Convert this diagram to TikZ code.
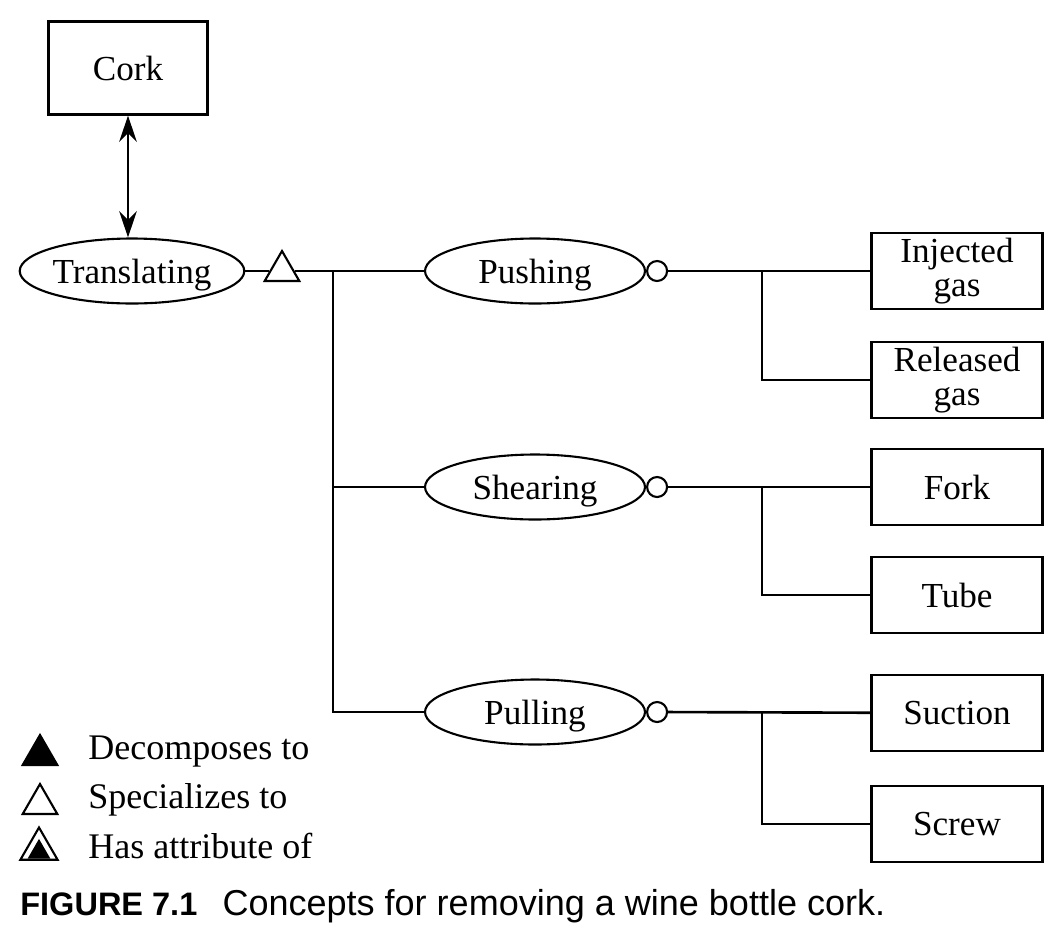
\documentclass[tikz,border=0pt]{standalone}
\usepackage{fontspec}
\setmainfont{Liberation Serif}
\setsansfont{Liberation Sans}
\usetikzlibrary{positioning,calc,shapes.geometric,arrows.meta}
\tikzset{
  concept/.style={ellipse,draw=black,line width=1.2pt,minimum width=4.4cm,minimum height=1.3cm,inner sep=0pt,text depth=0pt,font=\fontsize{20}{22}\selectfont},
  part/.style={draw=black,line width=1.2pt,minimum width=3.42cm,minimum height=1.52cm,inner sep=0pt,align=center,font=\fontsize{20}{19.5}\selectfont},
  ring/.style={circle,draw=black,line width=1.2pt,fill=white,minimum size=0.4cm,inner sep=0pt},
  tri/.style={regular polygon,regular polygon sides=3,draw=black,line width=1.2pt,minimum size=0.8cm,inner sep=0pt},
  link/.style={draw=black,line width=1.5pt},
  legtext/.style={anchor=west,inner sep=0pt,font=\fontsize{20.5}{22}\selectfont},
}

\begin{document}
\begin{tikzpicture}[x=0.02cm,y=-0.02cm]
\useasboundingbox (0,0) rectangle (1064,947);
% concepts
\node[part,minimum width=3.18cm,minimum height=1.86cm,text depth=0pt] (cork) at (128,68) {Cork};
\node[concept] (trans) at (132,271) {Translating};
\node[concept] (push) at (535,271) {Pushing};
\node[concept] (shear) at (535,487) {Shearing};
\node[concept] (pull) at (535,712) {Pulling};
\node[tri] (spec) at (282,271) {};
% parts
\node[part] (inj) at (957,271) {Injected\\gas};
\node[part] (rel) at (957,380) {Released\\gas};
\node[part] (fork) at (957,487) {Fork};
\node[part] (tube) at (957,595) {Tube};
\node[part] (suct) at (957,713) {Suction};
\node[part] (screw) at (957,824) {Screw};
% attribute rings
\node[ring,right=0pt of push] (pushc) {};
\node[ring,right=0pt of shear] (shearc) {};
\node[ring,right=0pt of pull] (pullc) {};
% connectors
\draw[link,{Stealth[length=15pt,width=10pt,inset=5pt]}-{Stealth[length=15pt,width=10pt,inset=5pt]}] (cork) -- (cork |- trans.north);
\draw[link] (trans) -- (spec);
\draw[link] (spec) -- (push);
\coordinate (jn) at (333,271);
\draw[link] (jn) |- (pull);
\draw[link] (jn |- shear) -- (shear);
\draw[link] (pushc) -- (inj);
\draw[link] (shearc) -- (fork);
\draw[link] (pullc) -- (suct);
\coordinate (jp) at (762,271);
\coordinate (js) at (762,487);
\coordinate (jl) at (762,713);
\draw[link] (jp) |- (rel);
\draw[link] (js) |- (tube);
\draw[link] (jl) |- (screw);
% legend
\node[tri,fill=black] (decomp) at (40,755) {};
\node[tri] (special) at (40,804) {};
\node[tri,minimum size=0.86cm] (attr) at (39,849) {};
\node[tri,fill=black,minimum size=0.44cm] (attrin) at (39,852) {};
\node[legtext] (decompt) at (88,752) {Decomposes to};
\node[legtext] (specialt) at (88,800) {Specializes to};
\node[legtext] (attrt) at (88,846) {Has attribute of};
% caption
\node[anchor=west,inner sep=0pt,font=\sffamily\fontsize{20.5}{22}\selectfont] (cap) at (20,906)
  {{\bfseries\fontsize{18.5}{22}\selectfont FIGURE 7.1}\hspace{0.7em}Concepts for removing a wine bottle cork.};
\end{tikzpicture}
\end{document}
